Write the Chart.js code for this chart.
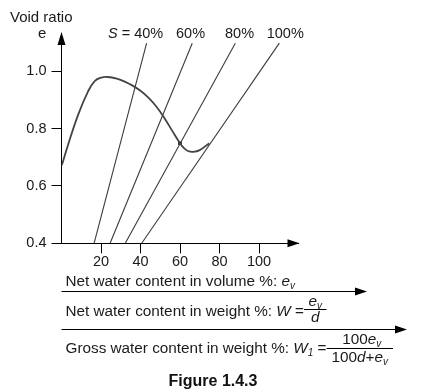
<!DOCTYPE html>
<html>
<head>
<meta charset="utf-8">
<script src="https://cdn.jsdelivr.net/npm/chart.js@4.4.1/dist/chart.umd.min.js"></script>
<style>
  html, body { margin: 0; padding: 0; background: #fff; }
  #chart { display: block; }
</style>
</head>
<body>
<canvas id="chart" width="421" height="392"></canvas>
<script>
// void ratio curve (x = net water content in volume %, e = void ratio)
const curveX = [0.2, 3.3, 8.4, 13.4, 16.8, 20.2, 23.5, 28, 32, 36, 40, 44, 48, 52, 56, 60, 62, 64, 66.7, 70, 74.8];
const curveE = [0.673, 0.743, 0.848, 0.929, 0.966, 0.978, 0.98, 0.974, 0.964, 0.95, 0.932, 0.908, 0.877, 0.838, 0.793, 0.749, 0.732, 0.722, 0.719, 0.725, 0.749];

// saturation lines S, each a straight line from e = 0.4 to e = 1.098
const satLabels = ['40%', '60%', '80%', '100%'];
const satBottomX = [16.5, 24.6, 32.3, 40.6];
const satTopX = [43.1, 66.2, 88.0, 110.3];
const satE = [0.4, 1.098];

// marked point on the curve
const markX = [60];
const markE = [0.749];

const xTicks = [20, 40, 60, 80, 100];
const yTicks = [0.4, 0.6, 0.8, 1.0];

const FONT = "'Liberation Sans', Arial, sans-serif";
const TXT = '#1a1a1a';
const BODY = 15.3;

Chart.defaults.font.family = FONT;
Chart.defaults.font.size = 14.5;
Chart.defaults.color = TXT;

const datasets = [{
  data: curveX.map((x, i) => ({ x: x, y: curveE[i] })),
  showLine: true,
  borderColor: '#444',
  borderWidth: 1.8,
  pointRadius: 0,
  tension: 0.4
}];
satLabels.forEach((s, i) => {
  datasets.push({
    data: [{ x: satBottomX[i], y: satE[0] }, { x: satTopX[i], y: satE[1] }],
    showLine: true,
    borderColor: '#3c3c3c',
    borderWidth: 1.1,
    pointRadius: 0
  });
});
datasets.push({
  data: markX.map((x, i) => ({ x: x, y: markE[i] })),
  pointRadius: 2.6,
  pointStyle: 'rect',
  backgroundColor: '#111',
  borderColor: '#111',
  borderWidth: 0
});

function tri(ctx, pts) {
  ctx.beginPath();
  ctx.moveTo(pts[0], pts[1]);
  ctx.lineTo(pts[2], pts[3]);
  ctx.lineTo(pts[4], pts[5]);
  ctx.closePath();
  ctx.fill();
}

function fontFor(st) {
  if (st === 's') return 'italic 10px ' + FONT;
  return (st === 'i' ? 'italic ' : '') + BODY + 'px ' + FONT;
}

// draws runs like [text, style]; style: n normal, i italic, s italic subscript
function runs(ctx, parts, x, y) {
  parts.forEach(p => {
    ctx.font = fontFor(p[1]);
    ctx.fillText(p[0], x, p[1] === 's' ? y + 3 : y);
    x += ctx.measureText(p[0]).width;
  });
  return x;
}

function runsWidth(ctx, parts) {
  let w = 0;
  parts.forEach(p => {
    ctx.font = fontFor(p[1]);
    w += ctx.measureText(p[0]).width;
  });
  return w;
}

const extras = {
  id: 'extras',
  afterDraw(chart) {
    const ctx = chart.ctx;
    const a = chart.chartArea;
    ctx.save();
    ctx.fillStyle = '#000';
    ctx.strokeStyle = '#000';
    ctx.lineWidth = 1;
    // axis arrowheads
    tri(ctx, [a.left, a.top - 1, a.left - 4, a.top + 12, a.left + 4, a.top + 12]);
    tri(ctx, [a.right + 1, a.bottom, a.right - 11, a.bottom - 4, a.right - 11, a.bottom + 4]);

    ctx.fillStyle = TXT;
    ctx.textBaseline = 'alphabetic';
    ctx.textAlign = 'left';
    ctx.font = '15px ' + FONT;
    ctx.fillText('Void ratio', 10, 21.5);
    ctx.fillText('e', 38, 38);

    // saturation labels
    ctx.font = 'italic 14.5px ' + FONT;
    ctx.fillText('S', 108, 38);
    let sx = 108 + ctx.measureText('S').width;
    ctx.font = '14.5px ' + FONT;
    ctx.fillText(' = ' + satLabels[0], sx, 38);
    const labLeft = [null, 176, 225, 266.7];
    for (let i = 1; i < satLabels.length; i++) {
      ctx.fillText(satLabels[i], labLeft[i], 38);
    }

    // lower scales
    const x0 = a.left;
    ctx.fillStyle = TXT;
    runs(ctx, [['Net water content in volume %: ', 'n'], ['e', 'i'], ['v', 's']], x0 + 4, 286);
    ctx.beginPath();
    ctx.moveTo(x0, 291.5);
    ctx.lineTo(360, 291.5);
    ctx.stroke();
    ctx.fillStyle = '#000';
    tri(ctx, [367, 291.5, 355, 287.5, 355, 295.5]);

    ctx.fillStyle = TXT;
    let xx = runs(ctx, [['Net water content in weight %: ', 'n'], ['W', 'i'], [' =', 'n']], x0 + 4, 316);
    let num = [['e', 'i'], ['v', 's']];
    let den = [['d', 'i']];
    let fw = Math.max(runsWidth(ctx, num), runsWidth(ctx, den)) + 9;
    runs(ctx, num, xx + (fw - runsWidth(ctx, num)) / 2, 305.5);
    runs(ctx, den, xx + (fw - runsWidth(ctx, den)) / 2, 322);
    ctx.beginPath();
    ctx.moveTo(xx, 309.5);
    ctx.lineTo(xx + fw, 309.5);
    ctx.stroke();
    ctx.beginPath();
    ctx.moveTo(x0, 329.5);
    ctx.lineTo(400, 329.5);
    ctx.stroke();
    ctx.fillStyle = '#000';
    tri(ctx, [407, 329.5, 395, 325.5, 395, 333.5]);

    ctx.fillStyle = TXT;
    xx = runs(ctx, [['Gross water content in weight %: ', 'n'], ['W', 'i'], ['1', 's'], [' =', 'n']], x0 + 4, 353);
    num = [['100', 'n'], ['e', 'i'], ['v', 's']];
    den = [['100', 'n'], ['d', 'i'], ['+', 'n'], ['e', 'i'], ['v', 's']];
    fw = Math.max(runsWidth(ctx, num), runsWidth(ctx, den)) + 10;
    runs(ctx, num, xx + (fw - runsWidth(ctx, num)) / 2 + 2, 344);
    runs(ctx, den, xx + (fw - runsWidth(ctx, den)) / 2, 361.5);
    ctx.beginPath();
    ctx.moveTo(xx, 348.5);
    ctx.lineTo(xx + fw, 348.5);
    ctx.stroke();

    ctx.font = 'bold 16px ' + FONT;
    ctx.textAlign = 'center';
    ctx.fillStyle = '#111';
    ctx.fillText('Figure 1.4.3', 213, 386);
    ctx.restore();
  }
};

new Chart(document.getElementById('chart'), {
  type: 'scatter',
  data: { datasets: datasets },
  options: {
    responsive: false,
    animation: false,
    events: [],
    layout: {
      autoPadding: false,
      padding: { left: 0, right: 122.5, top: 33, bottom: 118.7 }
    },
    plugins: { legend: { display: false }, tooltip: { enabled: false } },
    scales: {
      x: {
        type: 'linear',
        min: 0,
        max: 120,
        afterBuildTicks: s => { s.ticks = xTicks.map(v => ({ value: v })); },
        afterFit: s => { s.height = 30; },
        grid: { drawOnChartArea: false, drawTicks: true, tickLength: 10, color: '#000' },
        border: { display: true, color: '#000', width: 1 },
        ticks: { padding: 0, autoSkip: false, maxRotation: 0, color: TXT }
      },
      y: {
        type: 'linear',
        min: 0.4,
        max: 1.1335,
        afterBuildTicks: s => { s.ticks = yTicks.map(v => ({ value: v })); },
        afterFit: s => { s.width = 61.5; },
        grid: { drawOnChartArea: false, drawTicks: true, tickLength: 10, color: '#000' },
        border: { display: true, color: '#000', width: 1 },
        ticks: { padding: 5, color: TXT, callback: v => v.toFixed(1) }
      }
    }
  },
  plugins: [extras]
});
</script>
</body>
</html>
